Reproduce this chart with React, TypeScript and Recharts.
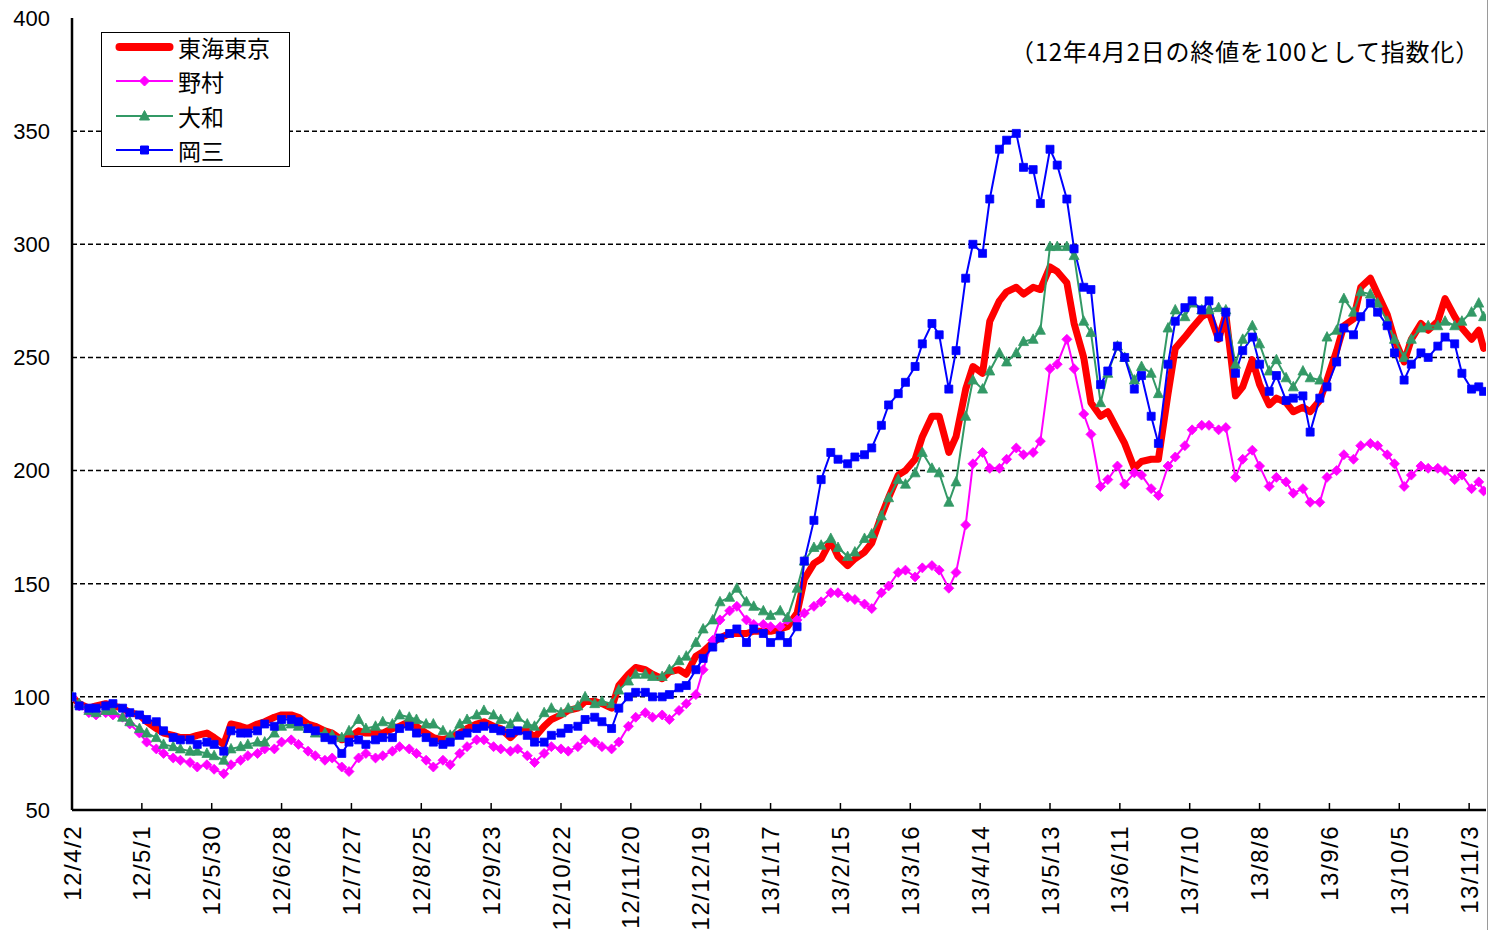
import { LineChart, Line, XAxis, YAxis, CartesianGrid, Legend } from 'recharts';

// days counted from 2012-04-02 (sampled Mon / Thu)
const dayOffsets = [
  0, 3, 7, 10, 14, 17, 21, 24, 28, 31, 35, 38, 42, 45, 49, 52, 56, 59, 63, 66,
  70, 73, 77, 80, 84, 87, 91, 94, 98, 101, 105, 108, 112, 115, 119, 122, 126, 129, 133, 136,
  140, 143, 147, 150, 154, 157, 161, 164, 168, 171, 175, 178, 182, 185, 189, 192, 196, 199, 203, 206,
  210, 213, 217, 220, 224, 227, 231, 234, 238, 241, 245, 248, 252, 255, 259, 262, 266, 269, 273, 276,
  280, 283, 287, 290, 294, 297, 301, 304, 308, 311, 315, 318, 322, 325, 329, 332, 336, 339, 343, 346,
  350, 353, 357, 360, 364, 367, 371, 374, 378, 381, 385, 388, 392, 395, 399, 402, 406, 409, 413, 416,
  420, 423, 427, 430, 434, 437, 441, 444, 448, 451, 455, 458, 462, 465, 469, 472, 476, 479, 483, 486,
  490, 493, 497, 500, 504, 507, 511, 514, 518, 521, 525, 528, 532, 535, 539, 542, 546, 549, 553, 556,
  560, 563, 567, 570, 574, 577, 581, 584, 586,
];

const tokaiTokyo = [
  100, 97, 95, 96, 97, 96, 95, 93, 92, 89, 86, 84, 83, 82, 82, 83, 84, 82, 79, 88,
  87, 86, 88, 89, 91, 92, 92, 91, 88, 87, 85, 84, 81, 82, 85, 84, 84, 84, 86, 87,
  89, 87, 84, 82, 81, 82, 84, 86, 88, 89, 87, 86, 82, 85, 85, 82, 87, 90, 92, 94,
  95, 98, 98, 97, 95, 105, 110, 113, 112, 110, 108, 111, 112, 110, 118, 120, 124, 126, 128, 128,
  128, 129, 129, 129, 130, 131, 137, 152, 159, 161, 169, 162, 158, 161, 164, 168, 180, 188, 198, 200,
  205, 215, 224, 224, 208, 215, 236, 246, 243, 266, 275, 279, 281, 278, 281, 280, 290, 288, 283, 265,
  250, 230, 224, 226, 218, 212, 201, 204, 205, 205, 234, 254, 259, 263, 268, 270, 258, 269, 233, 237,
  249, 238, 229, 232, 230, 226, 228, 226, 231, 240, 253, 264, 267, 281, 285, 278, 269, 258, 248, 258,
  265, 262, 266, 276, 268, 263, 258, 262, 254,
];

const nomura = [
  100, 96, 93, 92, 93, 92, 91, 88, 84, 80, 77, 75, 73, 72, 71, 69, 70, 68, 66, 70,
  72, 74, 75, 77, 77, 80, 81, 79, 76, 74, 72, 73, 69, 67, 73, 75, 73, 74, 76, 78,
  77, 75, 72, 69, 72, 70, 75, 78, 81, 81, 78, 77, 76, 77, 74, 71, 75, 78, 77, 76,
  78, 81, 80, 78, 77, 80, 87, 91, 93, 91, 92, 90, 94, 97, 101, 112, 125, 134, 138, 140,
  134, 132, 132, 131, 131, 134, 134, 137, 140, 142, 146, 146, 144, 143, 141, 139, 146, 149, 155, 156,
  153, 157, 158, 156, 148, 155, 176, 203, 208, 201, 201, 205, 210, 207, 208, 213, 245, 247, 258, 245,
  225, 216, 193, 196, 202, 194, 199, 198, 192, 189, 202, 206, 211, 218, 220, 220, 218, 219, 197, 205,
  209, 202, 193, 197, 195, 190, 192, 186, 186, 197, 200, 207, 205, 211, 212, 211, 207, 203, 193, 198,
  202, 201, 201, 200, 196, 198, 192, 195, 191,
];

const daiwa = [
  100, 97, 94, 93, 94, 94, 91, 89, 86, 84, 82, 79, 78, 77, 76, 76, 75, 74, 72, 77,
  78, 79, 80, 80, 84, 87, 88, 87, 86, 84, 84, 83, 82, 85, 90, 86, 87, 89, 88, 92,
  91, 90, 88, 88, 85, 83, 88, 90, 92, 94, 92, 90, 88, 91, 88, 87, 93, 95, 93, 95,
  96, 100, 97, 98, 97, 103, 107, 110, 110, 109, 109, 112, 116, 118, 124, 130, 134, 142, 144, 148,
  142, 140, 138, 136, 138, 135, 148, 160, 166, 167, 170, 166, 162, 164, 170, 172, 180, 188, 196, 194,
  199, 208, 201, 199, 186, 195, 224, 240, 236, 244, 252, 248, 252, 257, 258, 262, 299, 299, 299, 295,
  266, 261, 230, 243, 255, 250, 240, 246, 243, 234, 263, 271, 268, 274, 271, 271, 272, 271, 247, 258,
  264, 256, 244, 249, 241, 237, 244, 241, 240, 259, 262, 276, 270, 279, 278, 274, 266, 258, 250, 258,
  263, 264, 264, 266, 264, 266, 270, 274, 268,
];

const okasan = [
  100, 96, 95, 95, 96, 97, 95, 93, 92, 90, 89, 85, 82, 81, 81, 79, 80, 79, 76, 85,
  84, 84, 85, 88, 87, 90, 90, 89, 86, 85, 82, 81, 75, 80, 81, 79, 81, 82, 82, 86,
  87, 84, 82, 80, 79, 80, 83, 84, 86, 87, 86, 85, 84, 85, 83, 80, 80, 83, 84, 86,
  87, 90, 91, 89, 86, 95, 100, 102, 102, 100, 100, 101, 104, 105, 112, 117, 122, 126, 128, 130,
  124, 130, 128, 124, 127, 124, 131, 160, 178, 196, 208, 205, 203, 206, 207, 210, 220, 229, 234, 239,
  246, 256, 265, 260, 236, 253, 285, 300, 296, 320, 342, 346, 349, 334, 333, 318, 342, 335, 320, 298,
  281, 280, 238, 244, 255, 250, 236, 242, 224, 212, 247, 266, 272, 275, 271, 275, 259, 270, 243, 253,
  259, 247, 235, 242, 231, 232, 233, 217, 232, 237, 248, 263, 260, 268, 274, 270, 264, 252, 240, 247,
  252, 250, 255, 259, 256, 243, 236, 237, 235,
];

const xTicks = [0, 29, 58, 87, 116, 145, 174, 203, 232, 261, 290, 319, 348, 377, 406, 435, 464, 493, 522, 551, 580];
const xLabels = [
  '12/4/2', '12/5/1', '12/5/30', '12/6/28', '12/7/27', '12/8/25', '12/9/23', '12/10/22', '12/11/20', '12/12/19',
  '13/1/17', '13/2/15', '13/3/16', '13/4/14', '13/5/13', '13/6/11', '13/7/10', '13/8/8', '13/9/6', '13/10/5', '13/11/3',
];
const yTicks = [50, 100, 150, 200, 250, 300, 350, 400];
const gridValues = [100, 150, 200, 250, 300, 350];

const series = [
  { key: 'tokai', name: '東海東京', color: '#ff0000', marker: 'none' },
  { key: 'nomura', name: '野村', color: '#ff00ff', marker: 'diamond' },
  { key: 'daiwa', name: '大和', color: '#339966', marker: 'triangle' },
  { key: 'okasan', name: '岡三', color: '#0000ff', marker: 'square' },
];

const rows = dayOffsets.map((day, i) => ({
  day,
  tokai: tokaiTokyo[i],
  nomura: nomura[i],
  daiwa: daiwa[i],
  okasan: okasan[i],
}));

const FONT = '"Liberation Sans", Arial, sans-serif';
const JP = '"Noto Sans CJK JP", "Noto Sans CJK SC", sans-serif';

function markerPath(kind: string, cx: number, cy: number) {
  if (kind === 'diamond') return `M${cx},${cy - 5}L${cx + 5},${cy}L${cx},${cy + 5}L${cx - 5},${cy}Z`;
  if (kind === 'triangle') return `M${cx},${cy - 5.5}L${cx + 5},${cy + 4}L${cx - 5},${cy + 4}Z`;
  return `M${cx - 4},${cy - 4}h8v8h-8Z`;
}

const makeDot = (kind: string, color: string) => (props: any) => {
  const { cx, cy, index } = props;
  if (cx == null || cy == null) return <g key={`${kind}-e-${index}`} />;
  return <path key={`${kind}-${index}`} d={markerPath(kind, cx, cy)} fill={color} stroke={color} strokeWidth={0.8} />;
};

function XTick(props: any) {
  const { x, y, payload } = props;
  const label = xLabels[xTicks.indexOf(payload.value)] ?? '';
  const ty = y + 15;
  return (
    <g>
      <line x1={x} x2={x} y1={y - 7} y2={y} stroke="#000" strokeWidth={1.5} />
      <text
        x={x}
        y={ty}
        transform={`rotate(-90 ${x} ${ty})`}
        textAnchor="end"
        dy="0.36em"
        fontSize={24}
        letterSpacing={1.5}
        fontFamily={FONT}
        fill="#000"
      >
        {label}
      </text>
    </g>
  );
}

function LegendBox() {
  return (
    <div
      style={{
        width: 189,
        height: 135,
        boxSizing: 'border-box',
        border: '1.5px solid #000',
        background: '#fff',
        fontFamily: JP,
        fontSize: 23,
        color: '#000',
      }}
    >
      {series.map((s) => (
        <div
          key={s.key}
          style={{
            display: 'flex',
            alignItems: 'center',
            height: 33,
            boxSizing: 'border-box',
            paddingBottom: 6,
            marginBottom: 1.5,
          }}
        >
          <svg width={62} height={20} style={{ marginLeft: 13, flex: 'none' }}>
            {s.marker === 'none' ? (
              <line x1={4.5} x2={54.5} y1={10} y2={10} stroke={s.color} strokeWidth={8} strokeLinecap="round" />
            ) : (
              <>
                <line x1={1} x2={58} y1={10} y2={10} stroke={s.color} strokeWidth={2} />
                <path d={markerPath(s.marker, 29.5, 10)} fill={s.color} stroke={s.color} />
              </>
            )}
          </svg>
          <span style={{ lineHeight: '24px', marginLeft: 1 }}>{s.name}</span>
        </div>
      ))}
    </div>
  );
}

export default function App() {
  return (
    <div
      style={{
        position: 'absolute',
        left: 0,
        top: 0,
        width: 1488,
        height: 930,
        boxSizing: 'border-box',
        background: '#fff',
        borderRight: '1px solid #9a9a9a',
      }}
    >
      <LineChart width={1487} height={930} data={rows} margin={{ top: 18, right: 1, bottom: 0, left: 0 }}>
        <CartesianGrid
          vertical={false}
          horizontalValues={gridValues}
          stroke="#000"
          strokeDasharray="5 3"
          strokeWidth={1.5}
        />
        <XAxis
          type="number"
          dataKey="day"
          domain={[0, 587]}
          ticks={xTicks}
          interval={0}
          allowDataOverflow
          height={120}
          tickLine={false}
          tickSize={0}
          tickMargin={0}
          axisLine={{ stroke: '#000', strokeWidth: 2.5 }}
          tick={<XTick />}
        />
        <YAxis
          type="number"
          domain={[50, 400]}
          ticks={yTicks}
          interval={0}
          allowDataOverflow
          width={72}
          tickLine={false}
          tickSize={0}
          tickMargin={22}
          axisLine={{ stroke: '#000', strokeWidth: 2.5 }}
          tick={{ fontSize: 22, fill: '#000', fontFamily: FONT }}
        />
        <Legend
          layout="vertical"
          align="center"
          verticalAlign="middle"
          wrapperStyle={{ left: 101, top: 32, width: 189, height: 135 }}
          content={() => <LegendBox />}
        />
        <Line
          type="linear"
          dataKey="tokai"
          name="東海東京"
          stroke="#ff0000"
          strokeWidth={7}
          strokeLinejoin="round"
          strokeLinecap="round"
          dot={false}
          activeDot={false}
          isAnimationActive={false}
        />
        <Line
          type="linear"
          dataKey="nomura"
          name="野村"
          stroke="#ff00ff"
          strokeWidth={2}
          dot={makeDot('diamond', '#ff00ff')}
          activeDot={false}
          isAnimationActive={false}
        />
        <Line
          type="linear"
          dataKey="daiwa"
          name="大和"
          stroke="#339966"
          strokeWidth={2}
          dot={makeDot('triangle', '#339966')}
          activeDot={false}
          isAnimationActive={false}
        />
        <Line
          type="linear"
          dataKey="okasan"
          name="岡三"
          stroke="#0000ff"
          strokeWidth={2}
          dot={makeDot('square', '#0000ff')}
          activeDot={false}
          isAnimationActive={false}
        />
      </LineChart>
      <div
        style={{
          position: 'absolute',
          top: 38,
          right: 7,
          fontFamily: JP,
          fontSize: 24,
          lineHeight: '26px',
          letterSpacing: 0.8,
          whiteSpace: 'nowrap',
          color: '#000',
        }}
      >
        （12年4月2日の終値を100として指数化）
      </div>
    </div>
  );
}
